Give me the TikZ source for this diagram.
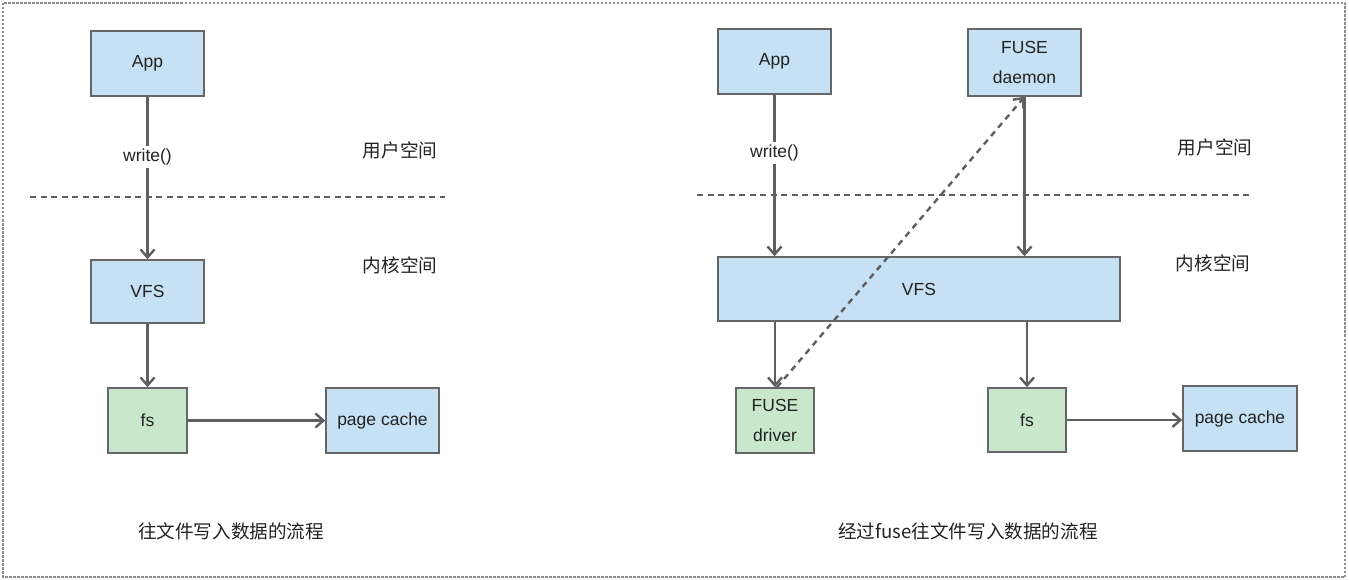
\documentclass[tikz,border=0pt]{standalone}
\usepackage{fontspec}
\setmainfont{Liberation Sans}
\newfontfamily\cjk{Noto Sans CJK SC}
\usetikzlibrary{arrows.meta}
\definecolor{bluef}{HTML}{C6E0F4}
\definecolor{greenf}{HTML}{C9E7CC}
\definecolor{edgec}{HTML}{666666}
\definecolor{lnc}{HTML}{5F5F5F}
\definecolor{txtc}{HTML}{222222}
\begin{document}
\begin{tikzpicture}[x=1pt,y=-1pt,
  box/.style={draw=edgec, line width=1.5pt, inner sep=0pt, align=center,
    text=txtc, font=\fontsize{17.5}{30}\selectfont},
  bbox/.style={box, fill=bluef},
  gbox/.style={box, fill=greenf},
  arr/.style={draw=lnc, line width=2.4pt, -{Straight Barb[length=8pt,width=14pt,line width=2.4pt]}},
  darr/.style={arr, dash pattern=on 6pt off 5pt},
  sepline/.style={draw=lnc, line width=2.4pt, dash pattern=on 6pt off 4.5pt},
  lbl/.style={text=txtc, font=\fontsize{17.5}{20}\selectfont},
  cjklbl/.style={text=txtc, font=\cjk\fontsize{18.6}{22}\selectfont},
]
\useasboundingbox (0,0) rectangle (1349,580);
\draw[draw=edgec!75, line width=1.3pt, dash pattern=on 2.5pt off 1.5pt] (3,3) rectangle (1345,577);

% left diagram
\node[bbox, minimum width=113pt, minimum height=65pt] (appL) at (147.5,63.5) {App};
\node[bbox, minimum width=113pt, minimum height=63pt] (vfsL) at (147.5,291.5) {VFS};
\node[gbox, minimum width=79pt, minimum height=65pt] (fsL) at (147.5,420.5) {fs};
\node[bbox, minimum width=113pt, minimum height=65pt] (pcL) at (382.5,420.5) {page cache};
\draw[sepline] (30,197) -- (445,197);
\node[cjklbl] (usrL) at (400,150) {用户空间};
\node[cjklbl] (kerL) at (400,265) {内核空间};
\draw[arr] (appL.south) -- node[lbl, pos=0.37, fill=white, inner sep=3pt] (wrL) {write()} (vfsL.north);
\draw[arr] (vfsL.south) -- (fsL.north);
\draw[arr] (fsL.east) -- (pcL.west);
\node[cjklbl] (capL) at (231,531) {往文件写入数据的流程};

% right diagram
\node[bbox, minimum width=113pt, minimum height=65pt] (appR) at (774.5,61.5) {App};
\node[bbox, minimum width=113pt, minimum height=67pt] (dmR) at (1024.5,62.5) {FUSE\\daemon};
\node[bbox, minimum width=402pt, minimum height=64pt] (vfsR) at (919,289) {VFS};
\node[gbox, minimum width=78pt, minimum height=65pt] (drvR) at (775,420.5) {FUSE\\driver};
\node[gbox, minimum width=78pt, minimum height=64pt] (fsR) at (1027,420) {fs};
\node[bbox, minimum width=114pt, minimum height=65pt] (pcR) at (1240,418.5) {page cache};
\draw[sepline] (697,195) -- (1252,195);
\node[cjklbl] (usrR) at (1215,147) {用户空间};
\node[cjklbl] (kerR) at (1213,263) {内核空间};
\draw[arr] (appR.south) -- node[lbl, pos=0.36, fill=white, inner sep=3pt] (wrR) {write()} (appR.south |- vfsR.north);
\draw[arr] (dmR.south) -- (dmR.south |- vfsR.north);
\draw[arr] (vfsR.south -| drvR.north) -- (drvR.north);
\draw[arr] (vfsR.south -| fsR.north) -- (fsR.north);
\draw[arr] (fsR.east) -- (fsR.east -| pcR.west);
\draw[darr] ([xshift=2pt]drvR.north) -- (dmR.south);
\node[cjklbl] (capR) at (968,531) {经过fuse往文件写入数据的流程};
\end{tikzpicture}
\end{document}
